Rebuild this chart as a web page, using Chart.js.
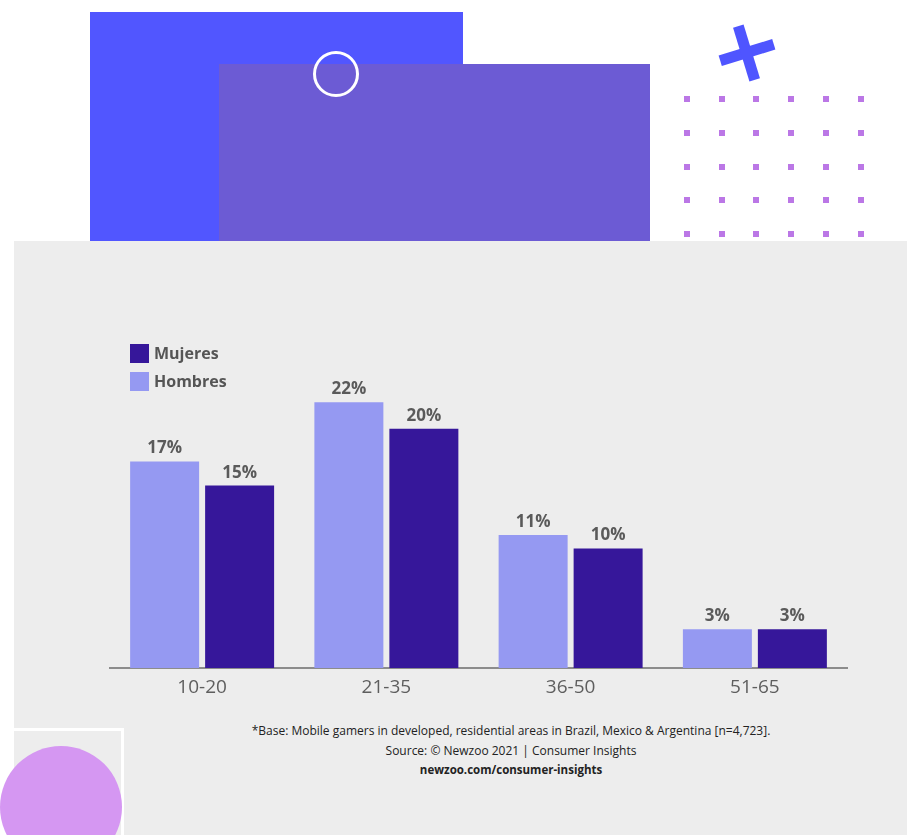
<!DOCTYPE html>
<html>
<head>
<meta charset="utf-8">
<script src="https://cdn.jsdelivr.net/npm/chart.js@4.4.0/dist/chart.umd.min.js"></script>
<style>
  html, body { margin: 0; padding: 0; background: #fff; }
  body { width: 907px; height: 835px; position: relative; overflow: hidden; font-family: "Open Sans", sans-serif; }
  .abs { position: absolute; }
  #rectAzul { left: 90px; top: 12px; width: 373px; height: 229px; background: #5156ff; }
  #rectMorado { left: 219px; top: 64px; width: 431px; height: 177px; background: #6c5bd4; }
  #circulo { left: 313px; top: 51px; width: 40px; height: 40px; border: 3px solid #fff; border-radius: 50%; }
  .cruz { background: #4f55ff; transform: rotate(-17deg); }
  .punto { width: 6px; height: 6px; background: #bb77e6; }
  #panel { left: 14px; top: 241px; width: 893px; height: 594px; background: #ededed; }
  #marco { left: 11px; top: 728px; width: 107px; height: 200px; border: 3px solid #fff; }
  #bola { left: 0px; top: 746px; width: 122px; height: 122px; border-radius: 50%; background: #d597f2; }
  #grafico { left: 0px; top: 241px; width: 907px; height: 470px; }
  #notas { left: 211px; top: 721px; width: 600px; text-align: center; color: #222; font-size: 12px; }
  #notas div { height: 19.5px; line-height: 19.5px; }
</style>
</head>
<body>
<div class="abs" id="rectAzul"></div>
<div class="abs" id="rectMorado"></div>
<div class="abs" id="circulo"></div>
<div class="abs cruz" style="left:719px; top:47px; width:56px; height:11px;"></div>
<div class="abs cruz" style="left:741px; top:25px; width:11px; height:56px;"></div>
<div id="puntos"></div>
<div class="abs" id="panel"></div>
<div class="abs" id="marco"></div>
<div class="abs" id="bola"></div>
<div class="abs" id="grafico"><canvas id="barras" width="907" height="470"></canvas></div>
<div class="abs" id="notas">
  <div>*Base: Mobile gamers in developed, residential areas in Brazil, Mexico &amp; Argentina [n=4,723].</div>
  <div>Source: © Newzoo 2021 | Consumer Insights</div>
  <div style="font-weight:bold; font-size:11.5px">newzoo.com/consumer-insights</div>
</div>
<script>
// Datos (porcentajes)
const categorias = ['10-20', '21-35', '36-50', '51-65'];
const hombres = [17.1, 22, 11, 3.2];
const mujeres = [15.1, 19.8, 9.9, 3.2];

const colorHombres = '#9599f2';
const colorMujeres = '#36179a';

// Cuadricula de puntos decorativa
const puntos = document.getElementById('puntos');
for (let fila = 0; fila < 5; fila++) {
  for (let col = 0; col < 6; col++) {
    const p = document.createElement('div');
    p.className = 'abs punto';
    p.style.left = (684 + col * 34.7) + 'px';
    p.style.top = (96 + fila * 33.8) + 'px';
    puntos.appendChild(p);
  }
}

// Etiquetas encima de cada barra
const rotulos = {
  id: 'rotulos',
  afterDatasetsDraw(chart) {
    const ctx = chart.ctx;
    ctx.save();
    ctx.font = 'bold 17px "Open Sans"';
    ctx.fillStyle = '#5a5a5a';
    ctx.textAlign = 'center';
    ctx.textBaseline = 'alphabetic';
    chart.data.datasets.forEach((ds, i) => {
      chart.getDatasetMeta(i).data.forEach((bar, j) => {
        ctx.fillText(Math.round(ds.data[j]) + '%', bar.x, bar.y - 8);
      });
    });
    ctx.restore();
  }
};

// Leyenda (Mujeres arriba, Hombres abajo)
const leyenda = {
  id: 'leyenda',
  afterDraw(chart) {
    const ctx = chart.ctx;
    const x = chart.chartArea.left + 20;
    const items = chart.data.datasets.slice().reverse();
    ctx.save();
    ctx.font = 'bold 16px "Open Sans"';
    ctx.textBaseline = 'middle';
    ctx.textAlign = 'left';
    items.forEach((ds, i) => {
      const y = 103 + i * 28;
      ctx.fillStyle = ds.backgroundColor;
      ctx.fillRect(x, y, 19, 19);
      ctx.fillStyle = '#555';
      ctx.fillText(ds.label, x + 24, y + 10);
    });
    ctx.restore();
  }
};

const ctx = document.getElementById('barras').getContext('2d');
const chart = new Chart(ctx, {
  type: 'bar',
  data: {
    labels: categorias,
    datasets: [
      { label: 'Hombres', data: hombres, backgroundColor: colorHombres },
      { label: 'Mujeres', data: mujeres, backgroundColor: colorMujeres }
    ]
  },
  options: {
    responsive: false,
    animation: false,
    categoryPercentage: 0.814,
    barPercentage: 0.92,
    layout: { padding: { left: 110, right: 60, top: 125, bottom: 4.2 } },
    plugins: {
      legend: { display: false },
      tooltip: { enabled: false }
    },
    scales: {
      x: {
        grid: { display: false, drawTicks: false },
        border: { display: true, color: '#8c8c8c', width: 2 },
        ticks: {
          color: '#5e5e5e',
          padding: 8,
          font: { family: 'Open Sans', size: 19 }
        }
      },
      y: { display: false, min: 0, max: 25 }
    }
  },
  plugins: [rotulos, leyenda]
});
</script>
</body>
</html>
